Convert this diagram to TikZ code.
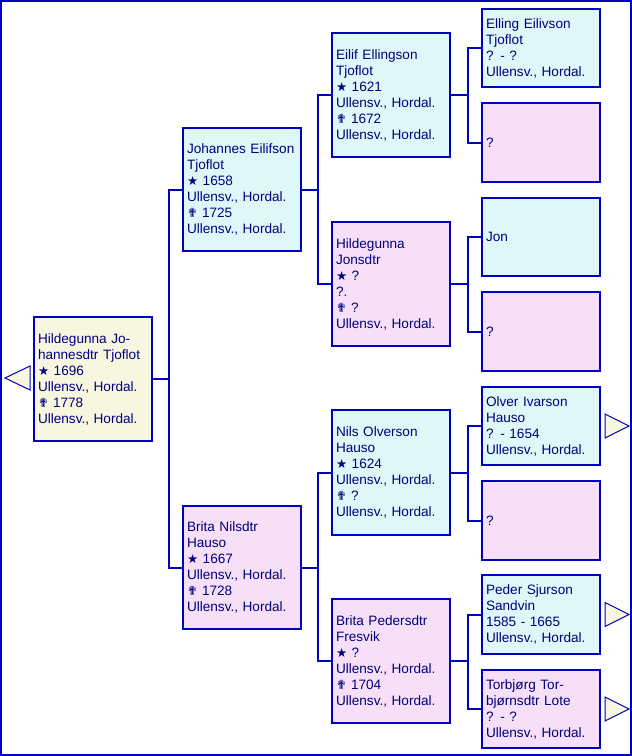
\documentclass[tikz,border=0pt]{standalone}
\usepackage{fontspec}
\setmainfont{Liberation Sans}
\newfontfamily\symf{DejaVu Sans}
\definecolor{frameblue}{RGB}{0,0,192}
\definecolor{txtblue}{RGB}{0,0,128}
\definecolor{malefill}{RGB}{224,247,247}
\definecolor{femfill}{RGB}{247,224,247}
\definecolor{rootfill}{RGB}{247,247,224}
\newcommand{\bstar}{{\symf\fontsize{12.5}{16}\selectfont ★}}
\newcommand{\dcross}{{\symf\fontsize{12.5}{16}\selectfont ✟}}
\tikzset{
  pbox/.style={draw=frameblue, line width=2pt, rectangle, anchor=north west,
    inner xsep=4pt, inner ysep=0pt, text width=110pt, minimum width=118pt,
    align=left, text=txtblue, font=\fontsize{13.6}{16}\selectfont},
  male/.style={pbox, fill=malefill},
  fem/.style={pbox, fill=femfill},
  rootp/.style={pbox, fill=rootfill},
  conn/.style={draw=frameblue, line width=2pt},
  moretri/.style={draw=frameblue, line width=1pt, fill=rootfill, line join=miter}
}
\begin{document}
\begin{tikzpicture}[x=1pt,y=-1pt]
\useasboundingbox (0,0) rectangle (632,756);
\draw[frameblue, line width=2pt] (1,1) rectangle (631,755);
% generation 1
\node[rootp, minimum height=124pt] (p1) at (33,316) {Hildegunna Jo-\\hannesdtr Tjoflot\\\bstar\ 1696\\Ullensv., Hordal.\\\dcross\ 1778\\Ullensv., Hordal.};
% generation 2
\node[male, minimum height=123pt] (p2) at (182,127) {Johannes Eilifson\\Tjoflot\\\bstar\ 1658\\Ullensv., Hordal.\\\dcross\ 1725\\Ullensv., Hordal.};
\node[fem, minimum height=123pt] (p3) at (182,505) {Brita Nilsdtr\\Hauso\\\bstar\ 1667\\Ullensv., Hordal.\\\dcross\ 1728\\Ullensv., Hordal.};
% generation 3
\node[male, minimum height=124pt] (p4) at (331,32) {Eilif Ellingson\\Tjoflot\\\bstar\ 1621\\Ullensv., Hordal.\\\dcross\ 1672\\Ullensv., Hordal.};
\node[fem, minimum height=124pt] (p5) at (331,221) {Hildegunna\\Jonsdtr\\\bstar\ ?\\?.\\\dcross\ ?\\Ullensv., Hordal.};
\node[male, minimum height=125pt] (p6) at (331,409) {Nils Olverson\\Hauso\\\bstar\ 1624\\Ullensv., Hordal.\\\dcross\ ?\\Ullensv., Hordal.};
\node[fem, minimum height=124pt] (p7) at (331,598) {Brita Pedersdtr\\Fresvik\\\bstar\ ?\\Ullensv., Hordal.\\\dcross\ 1704\\Ullensv., Hordal.};
% generation 4
\node[male, minimum height=78pt] (p8) at (481,8) {Elling Eilivson\\Tjoflot\\? - ?\\Ullensv., Hordal.};
\node[fem, minimum height=79pt] (p9) at (481,102) {?};
\node[male, minimum height=78pt] (p10) at (481,197) {Jon};
\node[fem, minimum height=79pt] (p11) at (481,291) {?};
\node[male, minimum height=78pt] (p12) at (481,386) {Olver Ivarson\\Hauso\\? - 1654\\Ullensv., Hordal.};
\node[fem, minimum height=79pt] (p13) at (481,480) {?};
\node[male, minimum height=79pt] (p14) at (481,574) {Peder Sjurson\\Sandvin\\1585 - 1665\\Ullensv., Hordal.};
\node[fem, minimum height=78pt] (p15) at (481,669) {Torbjørg Tor-\\bjørnsdtr Lote\\? - ?\\Ullensv., Hordal.};
% connectors
\draw[conn] (p1.east) -- ++(16,0) coordinate (j1);
\draw[conn] (j1) |- (p2.west);
\draw[conn] (j1) |- (p3.west);
\draw[conn] (p2.east) -- ++(16,0) coordinate (j2);
\draw[conn] (j2) |- (p4.west);
\draw[conn] (j2) |- (p5.west);
\draw[conn] (p3.east) -- ++(16,0) coordinate (j3);
\draw[conn] (j3) |- (p6.west);
\draw[conn] (j3) |- (p7.west);
\draw[conn] (p4.east) -- ++(17,0) coordinate (j4);
\draw[conn] (j4) |- (p8.west);
\draw[conn] (j4) |- (p9.west);
\draw[conn] (p5.east) -- ++(17,0) coordinate (j5);
\draw[conn] (j5) |- (p10.west);
\draw[conn] (j5) |- (p11.west);
\draw[conn] (p6.east) -- ++(17,0) coordinate (j6);
\draw[conn] (j6) |- (p12.west);
\draw[conn] (j6) |- (p13.west);
\draw[conn] (p7.east) -- ++(17,0) coordinate (j7);
\draw[conn] (j7) |- (p14.west);
\draw[conn] (j7) |- (p15.west);
% continuation triangles
\draw[moretri] (30,366) -- (30,390) -- (5,378) -- cycle;
\draw[moretri] ([xshift=4pt,yshift=-12pt]p12.east) -- ([xshift=4pt,yshift=12pt]p12.east) -- ([xshift=28pt]p12.east) -- cycle;
\draw[moretri] ([xshift=4pt,yshift=-12pt]p14.east) -- ([xshift=4pt,yshift=12pt]p14.east) -- ([xshift=28pt]p14.east) -- cycle;
\draw[moretri] ([xshift=4pt,yshift=-12pt]p15.east) -- ([xshift=4pt,yshift=12pt]p15.east) -- ([xshift=28pt]p15.east) -- cycle;
\end{tikzpicture}
\end{document}
